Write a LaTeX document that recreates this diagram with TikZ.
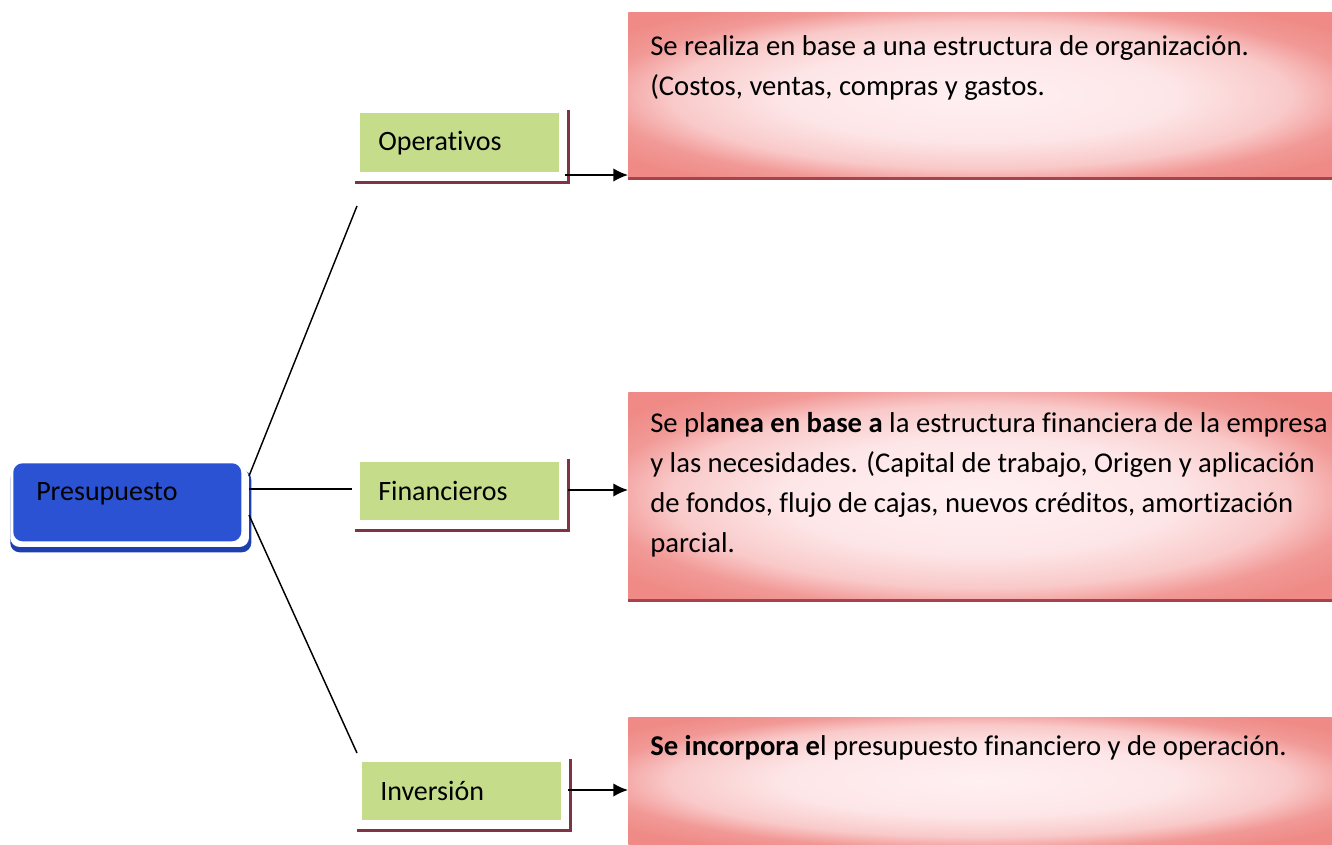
\documentclass[tikz,border=0pt]{standalone}
\usepackage{fontspec}
\setmainfont[Ligatures={NoCommon,NoContextual},RawFeature={-liga;-clig;-calt;-dlig}]{Carlito}
\usetikzlibrary{arrows.meta}
\definecolor{presblue}{HTML}{2B52D2}
\definecolor{presedge}{HTML}{1E3FAE}
\definecolor{lgreen}{HTML}{C5DD8B}
\definecolor{maroon}{HTML}{7E3444}
\definecolor{salmon}{HTML}{EF8A86}
\definecolor{pinkc}{HTML}{FFF0F2}
\definecolor{pinkline}{HTML}{A8424C}
\pgfdeclareradialshading{pinkshade}{\pgfpoint{0bp}{0bp}}{%
  color(0bp)=(pinkc);
  color(14bp)=(pinkc!90!salmon);
  color(22bp)=(pinkc!62!salmon);
  color(27bp)=(salmon!85!pinkc);
  color(32bp)=(salmon);
  color(50bp)=(salmon)}
\tikzset{
  greenbox/.style={fill=lgreen, anchor=north west, text width=122pt, align=left,
    inner xsep=13.5pt, inner ysep=0pt, minimum height=44pt, font=\fontsize{21}{25}\selectfont},
  shline/.style={draw=maroon, line width=2pt},
  pinkbox/.style={shading=pinkshade, shade, anchor=north west, inner sep=0pt, minimum width=528pt},
  pinkedge/.style={draw=pinkline, line width=2.2pt},
  desc/.style={anchor=north west, inner sep=0pt, align=left, font=\fontsize{21.5}{30}\selectfont},
  conn/.style={draw=black, line width=1.1pt},
  arr/.style={draw=black, line width=1.1pt, -{Latex[length=11pt,width=10pt]}}
}
\begin{document}
\begin{tikzpicture}[x=0.75pt,y=-0.75pt]
\useasboundingbox (0,0) rectangle (1332,844);
% Presupuesto
\node[fill=presedge, rounded corners=7pt, anchor=north west,
  minimum width=180.75pt, minimum height=61.5pt, inner sep=0pt] (presh) at (10,470) {};
\node[fill=white, rounded corners=7pt, anchor=north west,
  minimum width=179pt, minimum height=59pt, inner sep=0pt] (presw) at (10,468) {};
\node[fill=presblue, rounded corners=7pt, anchor=north west, minimum width=171pt,
  minimum height=58.5pt, inner sep=0pt] (pres) at (13,463) {};
\node[anchor=west, inner sep=0pt, font=\fontsize{21}{25}\selectfont] (prest) at (36,494) {Presupuesto};
% connectors from Presupuesto
\coordinate (p1) at (249,476);
\coordinate (p2) at (249,489);
\coordinate (p3) at (249,515);
\coordinate (e1) at (357,206);
\coordinate (e2) at (352,489);
\coordinate (e3) at (357,753);
\draw[conn] (p1) -- (e1);
\draw[conn, line width=0.8pt] (p2) -- (e2);
\draw[conn] (p3) -- (e3);
% green boxes
\node[greenbox, minimum height=44.25pt] (op) at (360,113) {Operativos};
\node[greenbox, minimum height=43.5pt] (fin) at (360,462) {Financieros};
\node[greenbox, minimum height=43.5pt] (inv) at (362,762) {Inversión};
\foreach \b in {op,fin,inv}{
  \draw[shline] ([xshift=6.75pt,yshift=2.25pt]\b.north east) -- ([xshift=6.75pt,yshift=-7.5pt]\b.south east)
    -- ([xshift=-3.75pt,yshift=-7.5pt]\b.south west);
}
% pink boxes
\node[pinkbox, minimum height=124.5pt] (d1) at (628,12) {};
\node[pinkbox, minimum height=156pt] (d2) at (628,392) {};
\node[pinkbox, minimum height=95.25pt] (d3) at (628,717) {};
\draw[pinkedge] (d1.south west) -- (d1.south east);
\draw[pinkedge] (d2.south west) -- (d2.south east);
\node[desc] (t1) at (650,35) {Se realiza en base a una estructura de organización.\\(Costos, ventas, compras y gastos.};
\node[desc] (t2) at (650,412) {Se pl\textbf{anea en base a} la estructura financiera de la empresa\\y las necesidades. (Capital de trabajo, Origen y aplicación\\de fondos, flujo de cajas, nuevos créditos, amortización\\parcial.};
\node[desc] (t3) at (650,735) {\textbf{Se incorpora e}l presupuesto financiero y de operación.};
% arrows
\coordinate (a1) at (565,175);
\coordinate (a2) at (568,490);
\coordinate (a3) at (568,790);
\draw[arr] (a1) -- (a1 -| d1.west);
\draw[arr] (a2) -- (a2 -| d2.west);
\draw[arr] (a3) -- (a3 -| d3.west);
\end{tikzpicture}
\end{document}
